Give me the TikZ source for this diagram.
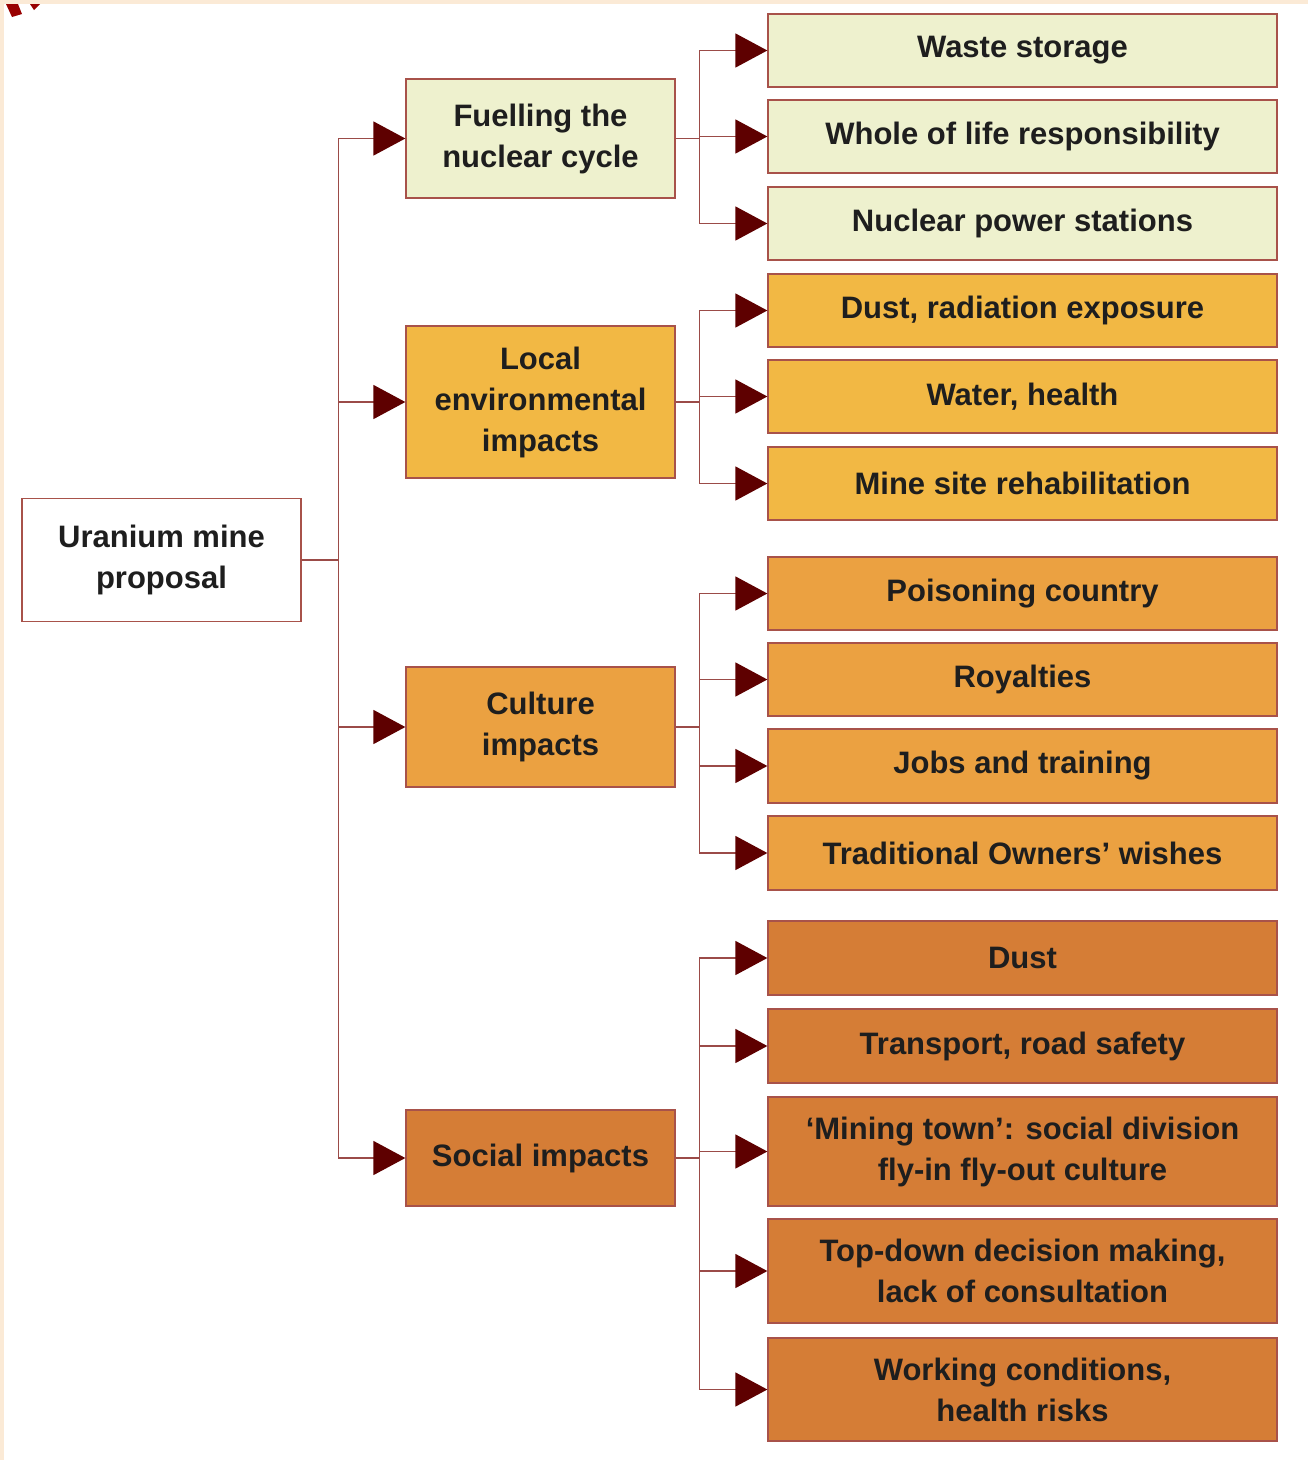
\documentclass[tikz,border=0pt]{standalone}
\usepackage{fontspec}
\setmainfont{Liberation Sans}
\usetikzlibrary{arrows.meta}
\definecolor{lightcol}{HTML}{EEF1CE}
\definecolor{localcol}{HTML}{F2B844}
\definecolor{culturecol}{HTML}{EBA141}
\definecolor{socialcol}{HTML}{D57D36}
\definecolor{bordercol}{HTML}{A8524A}
\definecolor{linecol}{HTML}{9B4B48}
\definecolor{arrowcol}{HTML}{5E0000}
\definecolor{textcol}{HTML}{1E1E1E}
\definecolor{peach}{HTML}{FBEAD6}
\tikzset{
  box/.style={draw=bordercol, line width=1.3pt, inner sep=0pt, align=center,
    text=textcol, font=\fontsize{31}{41}\selectfont\bfseries},
  rootbox/.style={box, fill=white, minimum width=279pt, minimum height=123pt},
  midbox/.style={box, minimum width=269pt},
  leafbox/.style={box, minimum width=509pt, minimum height=73pt},
  conn/.style={draw=linecol, line width=1.5pt},
  arr/.style={conn, -{Triangle[length=32pt,width=34pt,color=arrowcol]}}
}
\begin{document}
\begin{tikzpicture}[x=1pt,y=-1pt]
\useasboundingbox (0,0) rectangle (1308,1460);
\fill[white] (0,0) rectangle (1308,1460);
\fill[peach] (0,0) rectangle (1308,4);
\fill[peach] (0,0) rectangle (4,1460);
\fill[red!60!black] (6,4) -- (18,4) -- (22,14) -- (12,17) -- cycle;
\fill[red!60!black] (30,4) -- (40,4) -- (34,10) -- cycle;

% root
\node[rootbox] (root) at (161.5,560) {Uranium mine\\proposal};

% level 2
\node[midbox, fill=lightcol, minimum height=119pt] (fuel) at (540.5,138.5) {Fuelling the\\nuclear cycle};
\node[midbox, fill=localcol, minimum height=152pt] (local) at (540.5,402) {Local\\environmental\\impacts};
\node[midbox, fill=culturecol, minimum height=120pt] (cult) at (540.5,727) {Culture\\impacts};
\node[midbox, fill=socialcol, minimum height=96pt] (soc) at (540.5,1158) {Social impacts};

% leaves
\node[leafbox, fill=lightcol] (l1) at (1022.5,50.5) {Waste storage};
\node[leafbox, fill=lightcol] (l2) at (1022.5,136.5) {Whole of life responsibility};
\node[leafbox, fill=lightcol] (l3) at (1022.5,223.5) {Nuclear power stations};
\node[leafbox, fill=localcol] (l4) at (1022.5,310.5) {Dust, radiation exposure};
\node[leafbox, fill=localcol] (l5) at (1022.5,396.5) {Water, health};
\node[leafbox, fill=localcol] (l6) at (1022.5,483.5) {Mine site rehabilitation};
\node[leafbox, fill=culturecol] (l7) at (1022.5,593.5) {Poisoning country};
\node[leafbox, fill=culturecol] (l8) at (1022.5,679.5) {Royalties};
\node[leafbox, fill=culturecol, minimum height=74pt] (l9) at (1022.5,766) {Jobs and training};
\node[leafbox, fill=culturecol, minimum height=74pt] (l10) at (1022.5,853) {Traditional Owners’ wishes};
\node[leafbox, fill=socialcol, minimum height=74pt] (l11) at (1022.5,958) {Dust};
\node[leafbox, fill=socialcol, minimum height=74pt] (l12) at (1022.5,1046) {Transport, road safety};
\node[leafbox, fill=socialcol, minimum height=109pt] (l13) at (1022.5,1151.5) {‘Mining town’: social division\\fly-in fly-out culture};
\node[leafbox, fill=socialcol, minimum height=104pt] (l14) at (1022.5,1271) {Top-down decision making,\\lack of consultation};
\node[leafbox, fill=socialcol, minimum height=103pt] (l15) at (1022.5,1389.5) {Working conditions,\\health risks};

% root to level 2
\draw[conn] (root.east) -- ++(37,0) coordinate (trunk);
\foreach \t in {fuel,local,cult,soc}
  \draw[arr] (trunk) |- (\t.west);

% level 2 to leaves
\draw[conn] (fuel.east) -- ++(24,0) coordinate (b1);
\foreach \t in {l1,l2,l3} \draw[arr] (b1) |- (\t.west);
\draw[conn] (local.east) -- ++(24,0) coordinate (b2);
\foreach \t in {l4,l5,l6} \draw[arr] (b2) |- (\t.west);
\draw[conn] (cult.east) -- ++(24,0) coordinate (b3);
\foreach \t in {l7,l8,l9,l10} \draw[arr] (b3) |- (\t.west);
\draw[conn] (soc.east) -- ++(24,0) coordinate (b4);
\foreach \t in {l11,l12,l13,l14,l15} \draw[arr] (b4) |- (\t.west);
\end{tikzpicture}
\end{document}
